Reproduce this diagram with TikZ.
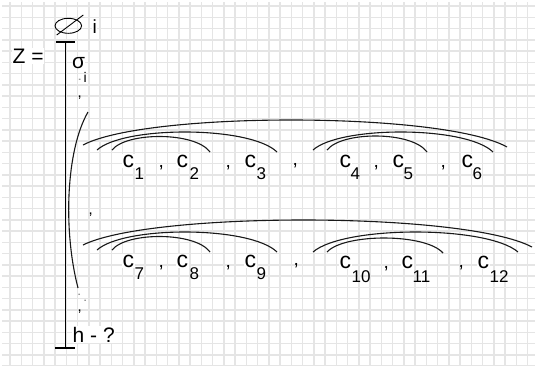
\documentclass[tikz,border=0pt]{standalone}
\usepackage{fontspec}
\setmainfont{Liberation Sans}
\newcommand\mkarc[5]{%
  \pgfmathsetmacro\arcax{#1+0.15*(#3-#1)}%
  \pgfmathsetmacro\arcbx{#3-0.15*(#3-#1)}%
  \pgfmathsetmacro\arccy{(#2+#4)/2-4/3*((#2+#4)/2-#5)}%
  \draw[arcline] (#1,#2) .. controls (\arcax,\arccy) and (\arcbx,\arccy) .. (#3,#4);}
\begin{document}
\begin{tikzpicture}[x=1pt,y=-1pt,
  maintxt/.style={inner sep=0.5pt, fill=white, anchor=base west, font=\fontsize{21}{21}\selectfont},
  ctxt/.style={inner sep=0.5pt, fill=white, anchor=base west, font=\fontsize{23}{23}\selectfont},
  subtxt/.style={inner sep=0.5pt, anchor=base west, font=\fontsize{17}{17}\selectfont},
  commatxt/.style={inner sep=0.5pt, anchor=base west, font=\fontsize{19}{19}\selectfont},
  smallcomma/.style={inner sep=0.5pt, anchor=base west, font=\fontsize{15}{15}\selectfont},
  tinytxt/.style={inner sep=0pt, anchor=base west, font=\fontsize{7}{7}\selectfont},
  gridline/.style={draw=black!10, line width=1.5pt},
  arcline/.style={draw=black!90, line width=1.1pt},
  barline/.style={draw=black, line width=1.3pt}]
\useasboundingbox (0,0) rectangle (535,365);
\fill[white] (0,0) rectangle (535,365);
\foreach \i in {0,...,46} \draw[gridline] (10+11.25*\i,2) -- (10+11.25*\i,365);
\foreach \j in {0,...,32} \draw[gridline] (2,6+11.25*\j) -- (535,6+11.25*\j);

% left part
\node[maintxt] (Z) at (12,63) {Z =};
\draw[line width=0.9pt] (68.3,25.8) ellipse [x radius=13.3pt, y radius=7.5pt];
\coordinate (sl1) at (56.7,35);
\coordinate (sl2) at (83.3,15);
\draw[line width=0.9pt] (sl1) -- (sl2);
\node[inner sep=0.5pt, fill=white, anchor=base west, font=\fontsize{19}{19}\selectfont] (itop) at (92,33) {i};

\coordinate (vt) at (65.5,42);
\coordinate (vb) at (65.5,348);
\draw[barline] (vt) -- (vb);
\draw[barline] (56,42) -- (74.5,42);
\draw[barline] (55,348) -- (74.5,348);

\node[maintxt, inner sep=0pt] (sig) at (72,68) {σ};
\node[inner sep=0pt, anchor=base west, font=\fontsize{14}{14}\selectfont] (sigi) at (83.5,82) {i};
\node[tinytxt] (d1) at (78.5,81.5) {-};
\node[smallcomma] (k1) at (77,97) {,};

\draw[arcline] (88,112) .. controls (66,150) and (63,230) .. (78,288);
\node[smallcomma] (k2) at (88,214) {,};
\node[tinytxt] (d2) at (78,296) {-};
\node[tinytxt] (d3) at (84,302) {-};
\node[smallcomma] (k3) at (77,311) {,};
\node[maintxt] (h) at (72,342) {h - ?};

% row 1 arcs
\mkarc{83}{145}{507}{147}{120}
\mkarc{97}{150}{277}{152}{132}
\mkarc{112}{150}{210}{152}{136.5}
\mkarc{313}{150}{493}{152}{132}
\mkarc{327}{150}{427}{152}{136}
% row 2 arcs
\mkarc{83}{245}{532}{247}{220}
\mkarc{97}{250}{277}{252}{232}
\mkarc{112}{250}{210}{252}{236.5}
\mkarc{313}{252}{518}{252}{232}
\mkarc{327}{252}{443}{253}{238}

% row 1 text
\node[ctxt] (c1) at (122,167) {c}; \node[subtxt] (s1) at (134,179) {1};
\node[commatxt] (r1a) at (158,167) {,};
\node[ctxt] (c2) at (176,167) {c}; \node[subtxt] (s2) at (189,179) {2};
\node[commatxt] (r1b) at (225,167) {,};
\node[ctxt] (c3) at (244,167) {c}; \node[subtxt] (s3) at (256,179) {3};
\node[commatxt] (r1c) at (292,165) {,};
\node[ctxt] (c4) at (339,167) {c}; \node[subtxt] (s4) at (350,179) {4};
\node[commatxt] (r1d) at (373,167) {,};
\node[ctxt] (c5) at (392,167) {c}; \node[subtxt] (s5) at (403,179) {5};
\node[commatxt] (r1e) at (440,167) {,};
\node[ctxt] (c6) at (461,167) {c}; \node[subtxt] (s6) at (472,179) {6};

% row 2 text
\node[ctxt] (c7) at (122,267) {c}; \node[subtxt] (s7) at (134,279) {7};
\node[commatxt] (r2a) at (158,267) {,};
\node[ctxt] (c8) at (176,267) {c}; \node[subtxt] (s8) at (189,279) {8};
\node[commatxt] (r2b) at (225,267) {,};
\node[ctxt] (c9) at (244,267) {c}; \node[subtxt] (s9) at (256,279) {9};
\node[commatxt] (r2c) at (293,265) {,};
\node[ctxt] (c10) at (339,268) {c}; \node[subtxt] (s10) at (351,282) {10};
\node[commatxt] (r2d) at (383,268) {,};
\node[ctxt] (c11) at (401,268) {c}; \node[subtxt] (s11) at (412,282) {11};
\node[commatxt] (r2e) at (458,267) {,};
\node[ctxt] (c12) at (477,268) {c}; \node[subtxt] (s12) at (489,282) {12};
\end{tikzpicture}
\end{document}
